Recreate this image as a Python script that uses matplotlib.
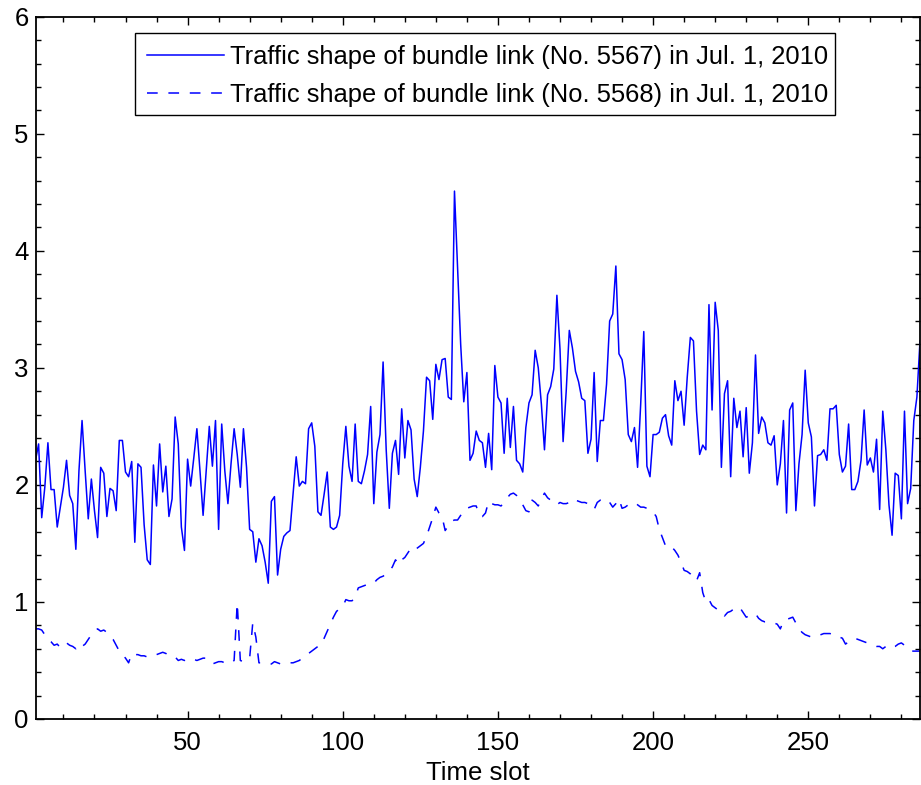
import numpy as np
import matplotlib
matplotlib.use("Agg")
import matplotlib.pyplot as plt
from matplotlib.ticker import MultipleLocator
from matplotlib.patches import Rectangle

time_slot = np.arange(1, 287)

link_5567 = [
    2.21, 2.35, 1.72, 1.98, 2.36, 1.96, 1.96, 1.64, 1.81, 1.98,
    2.21, 1.91, 1.84, 1.45, 2.12, 2.55, 2.12, 1.71, 2.05, 1.78,
    1.55, 2.15, 2.10, 1.73, 1.97, 1.95, 1.78, 2.38, 2.38, 2.11,
    2.07, 2.20, 1.51, 2.18, 2.15, 1.66, 1.36, 1.32, 2.17, 1.82,
    2.35, 1.94, 2.16, 1.73, 1.88, 2.58, 2.35, 1.64, 1.44, 2.22,
    1.99, 2.23, 2.48, 2.12, 1.74, 2.12, 2.50, 2.16, 2.55, 1.62,
    2.52, 2.12, 1.84, 2.18, 2.48, 2.26, 1.98, 2.48, 2.15, 1.62,
    1.60, 1.34, 1.54, 1.48, 1.34, 1.16, 1.86, 1.90, 1.23, 1.45,
    1.56, 1.59, 1.61, 1.92, 2.24, 1.99, 2.03, 2.01, 2.48, 2.53,
    2.33, 1.77, 1.74, 1.92, 2.11, 1.64, 1.62, 1.64, 1.74, 2.18,
    2.50, 2.16, 2.03, 2.52, 2.03, 2.01, 2.12, 2.26, 2.67, 1.84,
    2.28, 2.43, 3.05, 2.30, 1.80, 2.27, 2.38, 2.09, 2.65, 2.23,
    2.55, 2.47, 2.05, 1.90, 2.15, 2.46, 2.92, 2.89, 2.56, 3.03,
    2.90, 3.07, 3.08, 2.75, 2.73, 4.51, 3.85, 3.20, 2.71, 2.96,
    2.21, 2.27, 2.46, 2.38, 2.36, 2.15, 2.44, 2.13, 3.02, 2.75,
    2.70, 2.27, 2.74, 2.32, 2.67, 2.21, 2.18, 2.11, 2.49, 2.70,
    2.77, 3.15, 3.00, 2.69, 2.30, 2.77, 2.84, 2.99, 3.62, 3.16,
    2.37, 2.80, 3.32, 3.17, 2.97, 2.88, 2.74, 2.72, 2.27, 2.39,
    2.96, 2.20, 2.55, 2.55, 2.86, 3.40, 3.46, 3.87, 3.12, 3.07,
    2.90, 2.43, 2.37, 2.49, 2.15, 2.69, 3.31, 2.16, 2.07, 2.43,
    2.43, 2.45, 2.57, 2.60, 2.42, 2.34, 2.89, 2.72, 2.80, 2.51,
    2.92, 3.26, 3.23, 2.63, 2.26, 2.34, 2.30, 3.54, 2.64, 3.56,
    3.32, 2.15, 2.78, 2.89, 2.07, 2.74, 2.49, 2.63, 2.24, 2.66,
    2.10, 2.36, 3.11, 2.44, 2.58, 2.53, 2.36, 2.34, 2.42, 2.00,
    2.18, 2.55, 1.76, 2.64, 2.70, 1.78, 2.18, 2.43, 2.98, 2.53,
    2.41, 1.82, 2.25, 2.26, 2.30, 2.21, 2.65, 2.65, 2.68, 2.26,
    2.11, 2.16, 2.52, 1.96, 1.96, 2.03, 2.21, 2.64, 2.17, 2.23,
    2.11, 2.39, 1.79, 2.63, 2.30, 1.83, 1.57, 2.10, 2.08, 1.71,
    2.63, 1.84, 1.97, 2.55, 2.75, 3.23,
]

link_5568 = [
    0.77, 0.77, 0.76, 0.72, 0.68, 0.66, 0.63, 0.64, 0.61, 0.64,
    0.65, 0.63, 0.62, 0.60, 0.64, 0.62, 0.64, 0.68, 0.72, 0.75,
    0.77, 0.75, 0.76, 0.74, 0.71, 0.68, 0.63, 0.58, 0.55, 0.52,
    0.48, 0.56, 0.55, 0.55, 0.54, 0.54, 0.53, 0.53, 0.54, 0.55,
    0.56, 0.57, 0.56, 0.54, 0.53, 0.53, 0.50, 0.51, 0.50, 0.51,
    0.52, 0.51, 0.50, 0.51, 0.52, 0.52, 0.50, 0.47, 0.48, 0.49,
    0.49, 0.48, 0.47, 0.48, 0.50, 0.99, 0.50, 0.49, 0.50, 0.52,
    0.82, 0.70, 0.48, 0.48, 0.47, 0.47, 0.47, 0.49, 0.48, 0.47,
    0.47, 0.47, 0.48, 0.48, 0.49, 0.50, 0.52, 0.54, 0.56, 0.58,
    0.60, 0.62, 0.63, 0.69, 0.75, 0.81, 0.87, 0.92, 0.94, 0.96,
    1.02, 1.01, 1.01, 1.04, 1.12, 1.13, 1.14, 1.15, 1.16, 1.16,
    1.19, 1.21, 1.22, 1.24, 1.26, 1.30, 1.36, 1.32, 1.36, 1.38,
    1.42, 1.46, 1.44, 1.46, 1.48, 1.50, 1.56, 1.64, 1.72, 1.81,
    1.76, 1.73, 1.61, 1.65, 1.69, 1.70, 1.70, 1.74, 1.79, 1.80,
    1.81, 1.82, 1.82, 1.74, 1.73, 1.76, 1.86, 1.84, 1.83, 1.83,
    1.82, 1.85, 1.89, 1.92, 1.93, 1.91, 1.88, 1.83, 1.78, 1.77,
    1.87, 1.85, 1.82, 1.88, 1.93, 1.89, 1.87, 1.86, 1.83, 1.85,
    1.84, 1.84, 1.85, 1.84, 1.87, 1.86, 1.85, 1.85, 1.84, 1.82,
    1.79, 1.85, 1.87, 1.87, 1.88, 1.85, 1.81, 1.84, 1.88, 1.80,
    1.81, 1.83, 1.84, 1.85, 1.83, 1.81, 1.81, 1.80, 1.78, 1.77,
    1.73, 1.62, 1.55, 1.48, 1.46, 1.47, 1.44, 1.40, 1.34, 1.27,
    1.26, 1.24, 1.20, 1.18, 1.25, 1.08, 1.00, 1.02, 0.97, 0.95,
    0.93, 0.92, 0.88, 0.91, 0.92, 0.94, 0.96, 0.95, 0.91, 0.87,
    0.88, 0.89, 0.90, 0.86, 0.84, 0.83, 0.83, 0.83, 0.82, 0.81,
    0.77, 0.84, 0.85, 0.86, 0.87, 0.82, 0.77, 0.74, 0.72, 0.71,
    0.70, 0.70, 0.71, 0.72, 0.73, 0.73, 0.73, 0.72, 0.72, 0.70,
    0.69, 0.64, 0.66, 0.68, 0.69, 0.68, 0.67, 0.66, 0.65, 0.64,
    0.63, 0.62, 0.62, 0.60, 0.62, 0.60, 0.61, 0.62, 0.64, 0.65,
    0.63, 0.60, 0.58, 0.58, 0.58, 0.58,
]

label_5567 = "Traffic shape of bundle link (No. 5567) in Jul. 1, 2010"
label_5568 = "Traffic shape of bundle link (No. 5568) in Jul. 1, 2010"
x_label = "Time slot"
x_major = [50, 100, 150, 200, 250]
y_major = [0, 1, 2, 3, 4, 5, 6]

plt.rcParams["font.family"] = ["Liberation Sans", "DejaVu Sans"]
FS = 18.5
LEG_FS = 18.4

fig = plt.figure(figsize=(9.21, 7.85), dpi=100)
W, H = 921.0, 785.0
L, R, T, B = 35.5, 920.0, 16.7, 719.0
ax = fig.add_axes([L / W, 1 - B / H, (R - L) / W, (B - T) / H])

blue = (0, 0, 1)
ax.plot(time_slot, link_5567, color=blue, lw=1.1, label=label_5567)
ax.plot(time_slot, link_5568, color=blue, lw=1.1, linestyle=(0, (7, 7)),
        label=label_5568)

ax.set_xlim(1, 286)
ax.set_ylim(0, 6)
ax.set_xticks(x_major)
ax.set_yticks(y_major)
ax.xaxis.set_minor_locator(MultipleLocator(10))
ax.yaxis.set_minor_locator(MultipleLocator(0.2))
ax.tick_params(which="both", direction="in", top=True, right=True,
               labelsize=FS, colors="black")
ax.tick_params(which="major", length=6, width=1.0)
ax.tick_params(which="minor", length=3.5, width=1.0)
ax.tick_params(axis="x", pad=9)
ax.tick_params(axis="y", pad=5)
for s in ax.spines.values():
    s.set_linewidth(1.3)
ax.set_xlabel(x_label, fontsize=FS, labelpad=4)

# legend frame (drawn as a box so the padding matches the original)
box_l, box_r, box_t, box_b = 135.0, 835.0, 33.0, 115.0
frame = Rectangle((box_l / W, 1 - box_b / H), (box_r - box_l) / W, (box_b - box_t) / H,
                  transform=fig.transFigure, facecolor="white", edgecolor="black",
                  lw=1.0, zorder=4, clip_on=False)
ax.add_patch(frame)

leg = ax.legend(loc="upper left",
                bbox_to_anchor=((147 - L) / (R - L), (B - 45) / (B - T)),
                borderaxespad=0, frameon=False,
                fontsize=LEG_FS, handlelength=3.0, handletextpad=0.25,
                labelspacing=0.55, borderpad=0.0)
leg.set_zorder(5)

fig.savefig("out.png", dpi=100)
